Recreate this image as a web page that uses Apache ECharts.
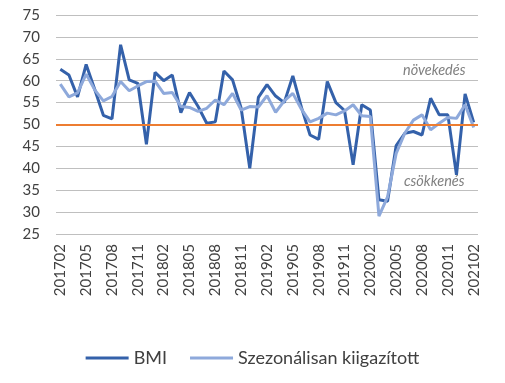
<!DOCTYPE html>
<html><head><meta charset="utf-8">
<script src="https://cdn.jsdelivr.net/npm/echarts@6/dist/echarts.min.js"></script>
<style>html,body{margin:0;padding:0;background:#fff}#c{width:505px;height:383px}</style>
</head><body><div id="c"></div>
<script>
const months = [
 '201702','201703','201704','201705','201706','201707','201708','201709','201710','201711','201712',
 '201801','201802','201803','201804','201805','201806','201807','201808','201809','201810','201811','201812',
 '201901','201902','201903','201904','201905','201906','201907','201908','201909','201910','201911','201912',
 '202001','202002','202003','202004','202005','202006','202007','202008','202009','202010','202011','202012',
 '202101','202102'];
const bmi = [62.6,61.3,56.3,63.7,58.0,52.1,51.3,68.2,60.2,59.4,45.5,
 61.9,60.0,61.3,52.7,57.3,54.1,50.3,50.6,62.2,60.2,53.7,40.0,
 56.2,59.1,56.5,55.0,61.1,53.9,47.6,46.6,59.8,55.0,53.2,40.8,
 54.5,53.3,32.8,32.5,45.2,48.0,48.4,47.6,56.0,52.2,52.2,38.5,
 57.0,50.5];
const sa = [59.2,56.3,57.2,61.5,57.9,55.4,56.4,59.8,57.7,58.8,59.8,
 59.9,57.1,57.3,54.1,53.9,53.0,53.7,55.6,54.5,57.1,53.3,54.1,
 54.0,56.6,52.8,55.4,57.1,53.5,50.6,51.4,52.6,52.2,53.1,54.5,
 52.0,51.8,29.1,33.5,43.4,48.0,51.0,52.2,48.8,50.3,51.6,51.4,
 54.5,49.3];
const yTicks = [25,30,35,40,45,50,55,60,65,70,75];
const threshold = 50;
const notes = [{text:'növekedés', month:'202010', value:62.3},{text:'csökkenés', month:'202010', value:37.1}];

const chart = echarts.init(document.getElementById('c'));
const font = 'Lato, "Open Sans", sans-serif';
chart.setOption({
  animation:false,
  textStyle:{fontFamily:font},
  grid:{left:56,right:27,top:15,bottom:149,containLabel:false},
  legend:{
    bottom:11,left:'center',
    icon:'rect',itemWidth:43,itemHeight:3,itemGap:23,
    textStyle:{fontFamily:font,fontSize:18,color:'#404040'},
    data:['BMI','Szezonálisan kiigazított']
  },
  xAxis:{
    type:'category',data:months,boundaryGap:true,
    axisLine:{show:false},axisTick:{show:false},
    axisLabel:{rotate:90,interval:2,fontSize:15,color:'#404040',fontFamily:font,margin:10}
  },
  yAxis:{
    type:'value',min:yTicks[0],max:yTicks[yTicks.length-1],interval:5,
    axisLine:{show:false},axisTick:{show:false},
    axisLabel:{fontSize:15,color:'#404040',fontFamily:font,margin:16},
    splitLine:{lineStyle:{color:'#bfbfbf',width:1}}
  },
  series:[
    {name:'BMI',type:'line',data:bmi,symbol:'none',
     lineStyle:{color:'#3461AA',width:3},itemStyle:{color:'#3461AA'},z:2},
    {name:'Szezonálisan kiigazított',type:'line',data:sa,symbol:'none',
     lineStyle:{color:'#8EA9DB',width:3},itemStyle:{color:'#8EA9DB'},z:3,
     markLine:{silent:true,symbol:'none',label:{show:false},
       lineStyle:{color:'#ED7D31',width:2,type:'solid'},data:[{yAxis:threshold}]},
     markPoint:{silent:true,symbol:'circle',symbolSize:0,
       label:{show:true,position:'inside',offset:[-5,0],fontStyle:'italic',fontSize:14.5,color:'#808080',fontFamily:font,
              formatter:p=>p.name},
       data:notes.map(n=>({name:n.text,coord:[n.month,n.value]}))}
    }
  ]
});
</script></body></html>
